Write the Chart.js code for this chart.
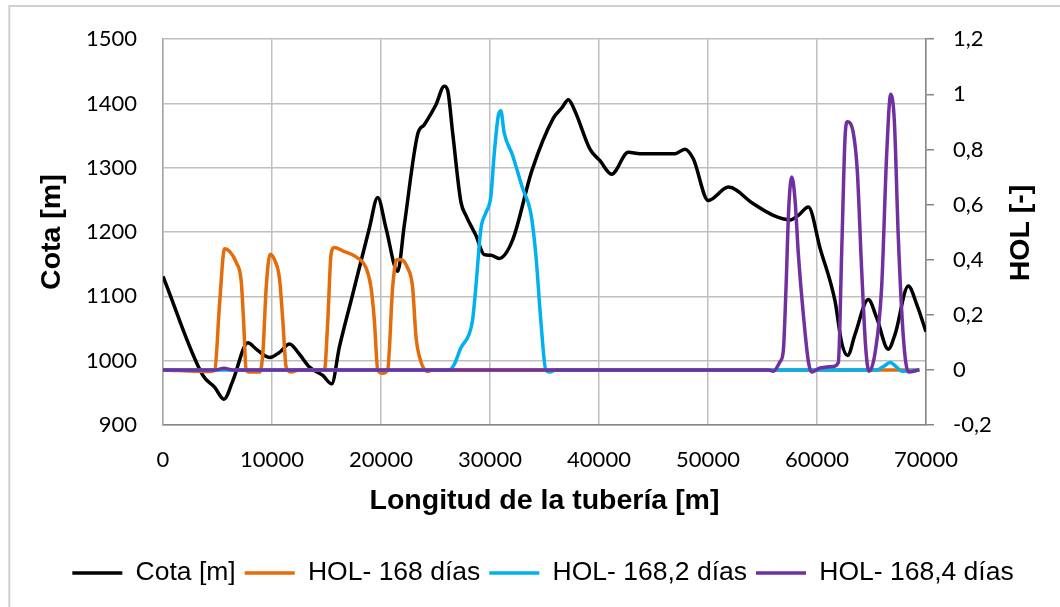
<!DOCTYPE html>
<html>
<head>
<meta charset="utf-8">
<script src="https://cdn.jsdelivr.net/npm/chart.js@4/dist/chart.umd.min.js"></script>
<style>
    body { margin: 0; background: #fff; }
    #wrap { width: 1060px; height: 607px; position: relative; }
</style>
</head>
<body>
<div id="wrap"><canvas id="holChart"></canvas></div>
<script>
// Longitud [m] y cota [m] del perfil
const cotaX = [0, 3660, 4730, 5590, 6410, 7790, 8550, 9770, 10690, 11600, 12520, 13440, 14660, 15480, 16180, 17400, 18930, 19700, 20460, 21530, 22140, 23360, 23970, 25040, 25800, 26110, 26570, 27330, 27790, 28700, 29470, 30080, 30840, 32060, 33850, 35800, 36580, 37190, 37800, 39170, 40090, 41160, 42690, 43760, 46970, 47890, 48650, 50030, 51870, 54160, 55990, 57520, 58290, 59210, 60280, 61650, 62260, 62810, 63490, 64710, 65470, 66540, 67160, 68380, 69140, 70000];
const cotaY = [1131, 977, 959, 940, 969, 1028, 1018, 1005, 1013, 1026, 1010, 990, 977, 964, 1021, 1103, 1206, 1254, 1206, 1139, 1211, 1352, 1367, 1398, 1427, 1421, 1355, 1247, 1226, 1195, 1165, 1164, 1159, 1187, 1296, 1377, 1393, 1406, 1388, 1329, 1311, 1290, 1324, 1322, 1322, 1329, 1314, 1249, 1270, 1244, 1226, 1219, 1226, 1239, 1175, 1093, 1028, 1008, 1041, 1095, 1067, 1018, 1041, 1116, 1088, 1045];

// HOL - 168 dias
const hol168X = [0, 4300, 4750, 5190, 5650, 6110, 6720, 7180, 7390, 7630, 7940, 8860, 9160, 9470, 9830, 10230, 10690, 10990, 11300, 11760, 12520, 14810, 15120, 15420, 15730, 16490, 17710, 18630, 19080, 19390, 19700, 20150, 20610, 21070, 21440, 21830, 22440, 22900, 23210, 23510, 24280, 24730, 69390];
const hol168Y = [0, -0.006, 0, 0.24, 0.44, 0.43, 0.39, 0.32, 0.18, 0, -0.008, -0.008, 0.06, 0.30, 0.42, 0.40, 0.33, 0.18, 0.01, -0.008, 0, 0, 0.18, 0.42, 0.444, 0.432, 0.41, 0.37, 0.30, 0.18, 0, -0.012, 0, 0.30, 0.40, 0.40, 0.37, 0.30, 0.12, 0.05, -0.006, 0, 0];

// HOL - 168,2 dias
const hol1682X = [0, 26260, 26720, 27330, 28090, 28400, 28700, 29160, 29620, 30080, 30380, 30750, 30990, 31300, 32060, 32980, 33740, 34200, 34660, 35120, 35500, 36000, 65470, 66090, 66700, 67310, 67770, 69390];
const hol1682Y = [0, 0, 0.02, 0.08, 0.13, 0.18, 0.30, 0.51, 0.57, 0.63, 0.78, 0.92, 0.94, 0.86, 0.78, 0.66, 0.57, 0.42, 0.18, 0, -0.008, 0, 0, 0.012, 0.027, 0.01, -0.005, 0];

// HOL - 168,4 dias
const hol1684X = [0, 4800, 5600, 6400, 55540, 56000, 56610, 56910, 57160, 57400, 57680, 57980, 58290, 58750, 59210, 59510, 60280, 61500, 61960, 62260, 62570, 62780, 63330, 63700, 64100, 64470, 64770, 65320, 65930, 66390, 66760, 67100, 67460, 67920, 68380, 69390];
const hol1684Y = [0, 0, 0.006, 0, 0, -0.005, 0.03, 0.07, 0.30, 0.58, 0.70, 0.62, 0.42, 0.20, 0.03, -0.008, 0.007, 0.012, 0.027, 0.42, 0.84, 0.90, 0.86, 0.72, 0.36, 0.08, -0.005, 0.06, 0.30, 0.78, 1.00, 0.90, 0.48, 0.12, -0.008, 0];

const seriesNames = ['Cota [m]', 'HOL- 168 días', 'HOL- 168,2 días', 'HOL- 168,4 días'];
const seriesColors = ['#000000', '#E46C0A', '#00B0F0', '#7030A0'];

const toPoints = (xs, ys) => xs.map((x, i) => ({ x: x, y: ys[i] }));

const lineStyle = (i, order, axis) => ({
    label: seriesNames[i],
    borderColor: seriesColors[i],
    backgroundColor: seriesColors[i],
    borderWidth: 3.5,
    pointRadius: 0,
    fill: false,
    cubicInterpolationMode: 'monotone',
    order: order,
    yAxisID: axis
});

// marco gris del grafico
const framePlugin = {
    id: 'frame',
    beforeDraw(chart) {
        const ctx = chart.ctx;
        ctx.save();
        ctx.fillStyle = '#ffffff';
        ctx.fillRect(0, 0, chart.width, chart.height);
        ctx.strokeStyle = '#d0d0d0';
        ctx.lineWidth = 2;
        ctx.strokeRect(9.3, 6, chart.width + 20, chart.height + 20);
        ctx.restore();
    }
};

// titulo del eje derecho, leido de abajo hacia arriba
const rightTitlePlugin = {
    id: 'rightTitle',
    afterDraw(chart) {
        const ctx = chart.ctx;
        const area = chart.chartArea;
        ctx.save();
        ctx.translate(chart.scales.y1.right - 39, (area.top + area.bottom) / 2 + 1);
        ctx.rotate(-Math.PI / 2);
        ctx.font = 'bold 28.5px "Liberation Sans", Arial, sans-serif';
        ctx.fillStyle = '#000';
        ctx.textAlign = 'center';
        ctx.textBaseline = 'middle';
        ctx.fillText('HOL [-]', 0, 0);
        ctx.restore();
    }
};

const tickFont = { family: 'Lato, "Open Sans", sans-serif', size: 22 };
const titleFont = { family: '"Liberation Sans", Arial, sans-serif', size: 28.5, weight: 'bold' };
const plainNumber = (value) => String(value);

new Chart(document.getElementById('holChart').getContext('2d'), {
    type: 'line',
    data: {
        datasets: [
            { ...lineStyle(0, 4, 'y'), data: toPoints(cotaX, cotaY) },
            { ...lineStyle(1, 3, 'y1'), data: toPoints(hol168X, hol168Y) },
            { ...lineStyle(2, 2, 'y1'), data: toPoints(hol1682X, hol1682Y) },
            { ...lineStyle(3, 1, 'y1'), data: toPoints(hol1684X, hol1684Y) }
        ]
    },
    options: {
        responsive: true,
        maintainAspectRatio: false,
        animation: false,
        layout: { padding: { top: 36, bottom: 10.75, left: 26, right: 0 } },
        plugins: {
            tooltip: { enabled: false },
            legend: {
                position: 'bottom',
                labels: {
                    color: '#000',
                    font: { family: '"Liberation Sans", Arial, sans-serif', size: 26.5 },
                    usePointStyle: true,
                    pointStyle: 'line',
                    pointStyleWidth: 50,
                    padding: 9,
                    sort: (a, b) => a.datasetIndex - b.datasetIndex
                }
            }
        },
        scales: {
            x: {
                type: 'linear',
                min: 0,
                max: 70000,
                ticks: { stepSize: 10000, color: '#000', font: tickFont, padding: 22, maxRotation: 0, callback: plainNumber },
                grid: { color: '#bfbfbf', lineWidth: 1.5, drawTicks: false },
                border: { color: '#868686', width: 1.5 },
                title: { display: true, text: 'Longitud de la tubería [m]', color: '#000', font: titleFont, padding: { top: 0, bottom: 32.6 } },
                afterFit(scale) { scale.height = 125.75; }
            },
            y: {
                position: 'left',
                min: 900,
                max: 1500,
                ticks: { stepSize: 100, color: '#000', font: tickFont, padding: 26, callback: plainNumber },
                grid: { color: '#bfbfbf', lineWidth: 1.5, drawTicks: false },
                border: { color: '#a6a6a6', width: 1.5 },
                title: { display: true, text: 'Cota [m]', color: '#000', font: titleFont, padding: { top: 9, bottom: 0 } },
                afterFit(scale) { scale.width = 137; }
            },
            y1: {
                position: 'right',
                min: -0.2,
                max: 1.2,
                ticks: {
                    stepSize: 0.2,
                    color: '#000',
                    font: tickFont,
                    padding: 19,
                    callback: (value) => String(Math.round(value * 10) / 10).replace('.', ',')
                },
                grid: { drawOnChartArea: false, drawTicks: true, tickLength: 8, color: '#868686', lineWidth: 1.5 },
                border: { color: '#868686', width: 1.5 },
                afterFit(scale) { scale.width = 134; }
            }
        }
    },
    plugins: [framePlugin, rightTitlePlugin]
});
</script>
</body>
</html>
